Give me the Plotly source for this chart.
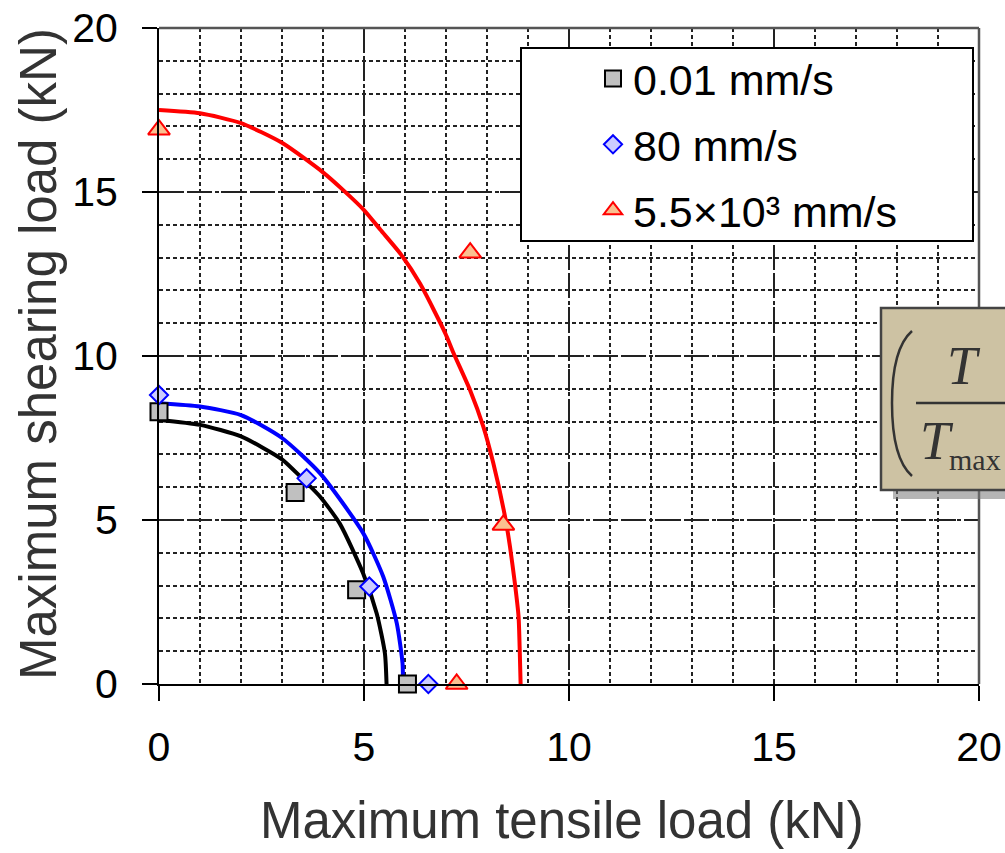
import plotly.graph_objects as go

# ---------------- data ----------------
series_names = ["0.01 mm/s", "80 mm/s", "5.5×10³ mm/s"]

sq_x = [0.0, 3.32, 4.82, 6.06]
sq_y = [8.3, 5.84, 2.87, 0.0]

di_x = [0.0, 3.6, 5.13, 6.57]
di_y = [8.81, 6.27, 2.97, 0.0]

tr_x = [0.0, 7.59, 8.4, 7.26]
tr_y = [16.9, 13.15, 4.85, 0.0]

black_curve_x = [0.0, 1.0, 2.0, 3.0, 3.44, 3.93, 4.41, 4.98, 5.31, 5.51, 5.55]
black_curve_y = [8.05, 7.9, 7.55, 6.85, 6.33, 5.71, 4.89, 3.37, 2.15, 0.94, 0.0]

blue_curve_x = [0.0, 1.0, 2.0, 3.0, 3.93, 4.98, 5.47, 5.8, 5.94, 5.95]
blue_curve_y = [8.56, 8.46, 8.2, 7.5, 6.42, 4.6, 3.27, 1.85, 0.63, 0.0]

red_curve_x = [0.0, 1.0, 2.0, 3.0, 4.0, 4.5, 5.0, 5.4, 5.9, 6.37, 6.98, 7.18, 7.59, 7.91,
               8.15, 8.44, 8.56, 8.68, 8.77, 8.8, 8.82]
red_curve_y = [17.5, 17.4, 17.1, 16.5, 15.6, 15.05, 14.45, 13.85, 13.1, 12.2, 10.7, 10.1, 8.95,
               7.85, 6.75, 5.1, 4.19, 3.07, 2.05, 0.95, 0.0]

x_ticks = [0, 5, 10, 15, 20]
y_ticks = [0, 5, 10, 15, 20]

# ---------------- layout helpers (pixel -> paper) ----------------
W, H = 1005, 853
L, R, T, B = 159, 979, 28, 684


def px(x):
    return (x - L) / (R - L)


def py(y):
    return (B - y) / (B - T)


SANS = "Liberation Sans, Arial, sans-serif"
SERIF = "Liberation Serif, Times New Roman, serif"

fig = go.Figure()

# fitted curves
for cx, cy, col in [(black_curve_x, black_curve_y, "#000000"),
                    (blue_curve_x, blue_curve_y, "#0000ff"),
                    (red_curve_x, red_curve_y, "#ff0000")]:
    fig.add_trace(go.Scatter(x=cx, y=cy, mode="lines", showlegend=False,
                             line=dict(color=col, width=4, shape="spline", smoothing=0.6),
                             hoverinfo="skip"))

# measured points
fig.add_trace(go.Scatter(x=sq_x, y=sq_y, mode="markers", name=series_names[0],
                         legendgroup="a", cliponaxis=False,
                         marker=dict(symbol="square", size=17, color="#c0c0c0",
                                     line=dict(color="#000000", width=2))))
fig.add_trace(go.Scatter(x=di_x, y=di_y, mode="markers", name=series_names[1],
                         legendgroup="b", cliponaxis=False,
                         marker=dict(symbol="diamond", size=14, color="#ccccff",
                                     line=dict(color="#0000ff", width=2))))
fig.add_trace(go.Scatter(x=tr_x, y=tr_y, mode="markers", name=series_names[2],
                         legendgroup="c", cliponaxis=False,
                         marker=dict(symbol="triangle-up", size=19, color="#fac090",
                                     line=dict(color="#ff0000", width=2))))

axis_common = dict(
    range=[0, 20], dtick=5, tick0=0, showgrid=True, automargin=False,
    gridcolor="#222222", gridwidth=1.5, griddash="22px,9px",
    minor=dict(dtick=1, showgrid=True, gridcolor="#222222", gridwidth=1.5,
               griddash="4px,3px", ticks=""),
    showline=True, linecolor="#000000", linewidth=2, mirror=False,
    ticks="outside", ticklen=15, tickwidth=2, tickcolor="#000000",
    zeroline=False, tickfont=dict(family=SANS, size=41, color="#000000"),
    fixedrange=True,
)

fig.update_xaxes(**axis_common, tickvals=x_ticks, ticklabelstandoff=11)
fig.update_yaxes(**axis_common, tickvals=y_ticks, ticklabelstandoff=16)

shapes = []
# right / top frame
shapes.append(dict(type="line", xref="paper", yref="paper", x0=1, x1=1, y0=0, y1=1,
                   line=dict(color="#555555", width=2.5), layer="above"))
shapes.append(dict(type="line", xref="paper", yref="paper", x0=0, x1=1, y0=1, y1=1,
                   line=dict(color="#555555", width=2.5), layer="above"))
# legend box
shapes.append(dict(type="rect", xref="paper", yref="paper",
                   x0=px(521), x1=px(973), y0=py(241), y1=py(48),
                   fillcolor="#ffffff", line=dict(color="#000000", width=2), layer="above"))
# formula box shadow + box
shapes.append(dict(type="rect", xref="paper", yref="paper",
                   x0=px(893), x1=px(1030), y0=py(499), y1=py(318),
                   fillcolor="rgba(120,120,120,0.55)", line=dict(width=0), layer="above"))
shapes.append(dict(type="rect", xref="paper", yref="paper",
                   x0=px(881), x1=px(1030), y0=py(490), y1=py(308),
                   fillcolor="#cdc2a3", line=dict(color="#444444", width=2.5), layer="above"))
# big parenthesis
p = [(912, 331), (896, 345), (892, 375), (892, 403), (892, 432), (896, 462), (912, 476)]
pp = [(px(a), py(b)) for a, b in p]
path = "M {},{} C {},{} {},{} {},{} C {},{} {},{} {},{}".format(
    *[v for pt in pp for v in pt])
shapes.append(dict(type="path", xref="paper", yref="paper", path=path,
                   line=dict(color="#333333", width=2.5), layer="above"))
# fraction bar
shapes.append(dict(type="line", xref="paper", yref="paper",
                   x0=px(916), x1=px(1030), y0=py(403), y1=py(403),
                   line=dict(color="#333333", width=2.5), layer="above"))

annotations = [
    dict(text="Maximum tensile load (kN)", xref="paper", yref="paper",
         x=px(562), y=py(821), xanchor="center", yanchor="middle", showarrow=False,
         font=dict(family=SANS, size=51, color="#333333")),
    dict(text="Maximum shearing load (kN)", xref="paper", yref="paper",
         x=px(38), y=py(354), xanchor="center", yanchor="middle", showarrow=False,
         textangle=-90, font=dict(family=SANS, size=51, color="#333333")),
    dict(text="<i>T</i>", xref="paper", yref="paper", x=px(964), y=py(366),
         xanchor="center", yanchor="middle", showarrow=False,
         font=dict(family=SERIF, size=54, color="#333333")),
    dict(text="<i>T</i>", xref="paper", yref="paper", x=px(937), y=py(441),
         xanchor="center", yanchor="middle", showarrow=False,
         font=dict(family=SERIF, size=54, color="#333333")),
    dict(text="max", xref="paper", yref="paper", x=px(947), y=py(460),
         xanchor="left", yanchor="middle", showarrow=False,
         font=dict(family=SERIF, size=30, color="#333333")),
]

fig.update_layout(
    width=W, height=H,
    margin=dict(l=L, r=W - R, t=T, b=H - B, pad=0, autoexpand=False),
    paper_bgcolor="#ffffff", plot_bgcolor="#ffffff",
    shapes=shapes, annotations=annotations,
    showlegend=True,
    legend=dict(x=px(593), y=py(44), xanchor="left", yanchor="top",
                bgcolor="rgba(0,0,0,0)", borderwidth=0,
                font=dict(family=SANS, size=43, color="#000000"),
                traceorder="grouped", tracegroupgap=7, itemsizing="trace"),
    font=dict(family=SANS),
)

fig.write_html(
    "out.html",
    config={"displayModeBar": False},
    post_script="document.body.style.margin='0';document.body.style.overflow='hidden';",
)
